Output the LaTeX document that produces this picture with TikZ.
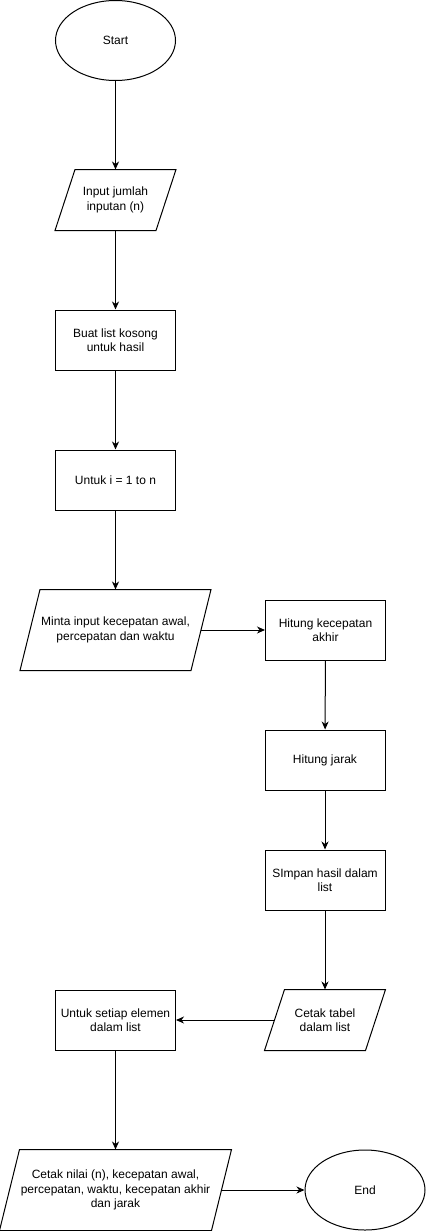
\documentclass[tikz,border=0pt]{standalone}
\usepackage{fontspec}
\setmainfont{Liberation Sans}
\usetikzlibrary{shapes.geometric,arrows.meta}
\tikzset{
    box/.style={draw,rectangle,minimum width=120pt,minimum height=60pt,align=center,inner sep=1pt},
    io/.style={rectangle,align=center,inner sep=1pt},
    terminal/.style={draw,ellipse,minimum width=120pt,minimum height=80pt,inner sep=1pt},
    flow/.style={-{Stealth[length=8pt,width=7pt,inset=2.5pt]}},
}
% parallelogram round a node: #1 node name
\newcommand\ioshape[1]{\draw ([xshift=20pt]#1.north west) -- (#1.north east) -- ([xshift=-20pt]#1.south east) -- (#1.south west) -- cycle;}
\begin{document}
\begin{tikzpicture}[x=1pt,y=-1pt,line width=1pt,font=\fontsize{12}{14.5}\selectfont]
            \useasboundingbox (0,0) rectangle (427,1231);
            \node[terminal] at (115.5,40.5)(start){Start};
            \node[io,minimum width=120pt,minimum height=60pt] at (115.5,200)(inp){Input jumlah\\inputan (n)};
            \node[box] at (115.5,340)(buat){Buat list kosong\\untuk hasil};
            \node[box] at (115.5,480)(loopi){Untuk i = 1 to n};
            \node[io,minimum width=190pt,minimum height=80pt] at (115.5,630)(minta){Minta input kecepatan awal,\\percepatan dan waktu};
            \node[box] at (325.5,630)(vakhir){Hitung kecepatan\\akhir};
            \node[box] at (325,760)(jarak){Hitung jarak};
            \node[box] at (325,880)(simpan){SImpan hasil dalam\\list};
            \node[io,minimum width=120pt,minimum height=60pt] at (325,1020)(tabel){Cetak tabel\\dalam list};
            \node[box] at (115.5,1020)(setiap){Untuk setiap elemen\\dalam list};
            \node[io,minimum width=231pt,minimum height=80pt] at (115.5,1190)(nilai){Cetak nilai (n), kecepatan awal,\\percepatan, waktu, kecepatan akhir\\dan jarak};
            \node[terminal] at (365,1190)(end){End};
            \ioshape{inp}
            \ioshape{minta}
            \ioshape{tabel}
            \ioshape{nilai}
            \draw[flow] (start) -- (inp);
            \draw[flow] (inp) -- (buat);
            \draw[flow] (buat) -- (loopi);
            \draw[flow] (loopi) -- (minta);
            \draw[flow,shorten <=-10pt] (minta) -- (vakhir);
            \draw[flow] (vakhir) -- (jarak);
            \draw[flow] (jarak) -- (simpan);
            \draw[flow] (simpan) -- (tabel);
            \draw[flow,shorten <=-10pt] (tabel) -- (setiap);
            \draw[flow] (setiap) -- (nilai);
            \draw[flow,shorten <=-10pt] (nilai) -- (end);
        \end{tikzpicture}
\end{document}
